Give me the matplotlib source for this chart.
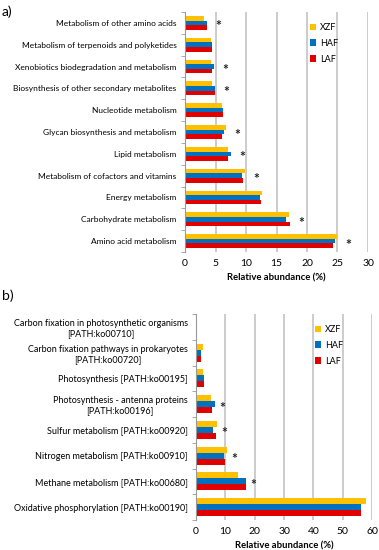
import numpy as np
import matplotlib.pyplot as plt

plt.rcParams['font.family'] = ['Lato', 'DejaVu Sans']

# ---- panel a data ----
cats_a = ["Amino acid metabolism", "Carbohydrate metabolism", "Energy metabolism",
          "Metabolism of cofactors and vitamins", "Lipid metabolism",
          "Glycan biosynthesis and metabolism", "Nucleotide metabolism",
          "Biosynthesis of other secondary metabolites",
          "Xenobiotics biodegradation and metabolism",
          "Metabolism of terpenoids and polyketides",
          "Metabolism of other amino acids"]
xzf_a = [24.96, 17.0, 12.6, 9.85, 7.0, 6.8, 6.1, 4.4, 4.2, 4.2, 3.1]
haf_a = [24.6, 16.5, 12.26, 9.36, 7.5, 6.35, 6.2, 4.9, 4.76, 4.4, 3.56]
laf_a = [24.25, 17.25, 12.5, 9.5, 7.1, 6.1, 6.3, 4.9, 4.5, 4.4, 3.56]
star_a = [True, True, False, True, True, True, False, True, True, False, True]

# ---- panel b data ----
cats_b = ["Oxidative phosphorylation [PATH:ko00190]",
          "Methane metabolism [PATH:ko00680]",
          "Nitrogen metabolism [PATH:ko00910]",
          "Sulfur metabolism [PATH:ko00920]",
          "Photosynthesis - antenna proteins\n[PATH:ko00196]",
          "Photosynthesis [PATH:ko00195]",
          "Carbon fixation pathways in prokaryotes\n[PATH:ko00720]",
          "Carbon fixation in photosynthetic organisms\n[PATH:ko00710]"]
xzf_b = [57.9, 14.4, 10.7, 7.3, 5.1, 2.3, 2.3, 0.2]
haf_b = [56.2, 17.2, 9.5, 5.9, 6.5, 2.8, 1.7, 0.2]
laf_b = [56.3, 17.0, 9.8, 6.7, 5.6, 2.6, 1.6, 0.3]
star_b = [False, True, True, True, True, False, False, False]

colors = {"XZF": "#FFC000", "HAF": "#0070C0", "LAF": "#E00000"}

fig = plt.figure(figsize=(3.79, 5.5), dpi=100)


def draw_panel(ax, cats, xzf, haf, laf, stars, xmax, step, h, star_off, fs, leg_xy):
    y = np.arange(len(cats))
    ax.barh(y + h, xzf, height=h, color=colors["XZF"], label="XZF")
    ax.barh(y, haf, height=h, color=colors["HAF"], label="HAF")
    ax.barh(y - h, laf, height=h, color=colors["LAF"], label="LAF")
    for i, s in enumerate(stars):
        if s:
            xm = max(xzf[i], haf[i], laf[i])
            ax.annotate("*", (xm, y[i]), xytext=(star_off, -2.5), textcoords="offset points",
                        ha="center", va="center", fontsize=10, fontweight="bold", color="#222222")
    ax.set_xlim(0, xmax)
    ax.set_ylim(-0.5, len(cats) - 0.5)
    ax.set_xticks(np.arange(0, xmax + 1, step))
    ax.set_yticks(y)
    ax.set_yticklabels(cats, fontsize=fs, multialignment="center")
    ax.set_yticks(np.arange(-0.5, len(cats), 1.0), minor=True)
    ax.tick_params(axis="y", which="major", length=0, pad=6)
    ax.tick_params(axis="y", which="minor", length=3, color="#999999")
    ax.tick_params(axis="x", length=0, labelsize=7.5, pad=5)
    for sp in ["top", "right", "bottom"]:
        ax.spines[sp].set_visible(False)
    ax.spines["left"].set_color("#999999")
    for v in np.arange(step, xmax + 1, step):
        ax.axvline(v, color="#C8C8C8", lw=1.3, zorder=0)
    ax.set_xlabel("Relative abundance (%)", fontsize=6.8, fontweight="bold", labelpad=4)
    ax.legend(loc="upper left", bbox_to_anchor=leg_xy, bbox_transform=fig.transFigure,
              frameon=False, fontsize=6.5, borderpad=0, borderaxespad=0,
              handlelength=0.7, handleheight=0.7, handletextpad=0.4, labelspacing=0.75)


ax1 = fig.add_axes([185 / 379, 1 - 252 / 550, (368 - 185) / 379, (252 - 12) / 550])
draw_panel(ax1, cats_a, xzf_a, haf_a, laf_a, star_a, 30, 5, 0.21, 8, 6.0,
           (310 / 379, 1 - 23 / 550))

ax2 = fig.add_axes([196 / 379, 1 - 520 / 550, (372 - 196) / 379, (520 - 314) / 550])
draw_panel(ax2, cats_b, xzf_b, haf_b, laf_b, star_b, 60, 10, 0.23, 5, 6.5,
           (315 / 379, 1 - 325 / 550))

fig.text(2 / 379, 1 - 12 / 550, "a)", fontsize=10, va="center")
fig.text(2 / 379, 1 - 296 / 550, "b)", fontsize=10, va="center")

fig.savefig("out.png", dpi=100)
